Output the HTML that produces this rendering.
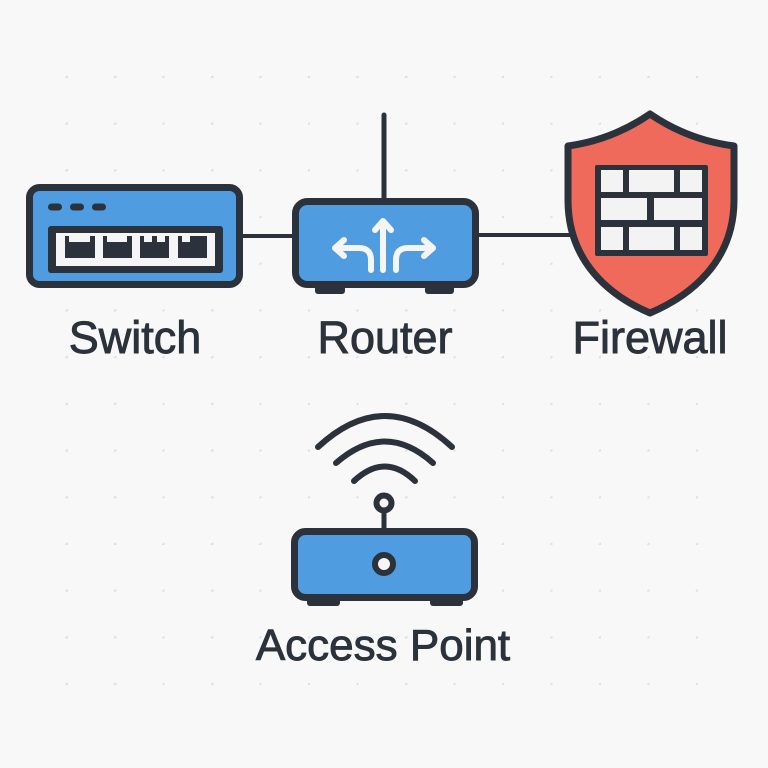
<!DOCTYPE html>
<html>
<head>
<meta charset="utf-8">
<style>
  html,body{margin:0;padding:0;background:#f8f8f8;}
  body{width:768px;height:768px;overflow:hidden;}
  svg{display:block;}
  text{font-family:"Liberation Sans",Arial,sans-serif;fill:#2b323b;stroke:#2b323b;stroke-width:0.9;}
</style>
</head>
<body>
<svg width="768" height="768" viewBox="0 0 768 768" xmlns="http://www.w3.org/2000/svg">
  <defs>
    <pattern id="dots" x="19" y="31.3" width="48.5" height="46.7" patternUnits="userSpaceOnUse">
      <circle cx="48.5" cy="46.7" r="2.4" fill="#e0e0e0"/>
    </pattern>
  </defs>
  <rect width="768" height="768" fill="#f8f8f8"/>
  <rect x="60" y="70" width="648" height="624" fill="url(#dots)"/>

  <!-- connectors -->
  <line x1="240" y1="236" x2="295" y2="236" stroke="#2b323b" stroke-width="4"/>
  <line x1="476" y1="235" x2="576" y2="235" stroke="#2b323b" stroke-width="4"/>
  <line x1="384" y1="115" x2="384" y2="200" stroke="#2b323b" stroke-width="5" stroke-linecap="round"/>

  <!-- Switch -->
  <rect x="29.5" y="187.5" width="210" height="97" rx="10" fill="#4f9de0" stroke="#2b323b" stroke-width="7"/>
  <rect x="48" y="203.5" width="14" height="7" rx="3.5" fill="#2b323b"/>
  <rect x="70" y="203.5" width="14" height="7" rx="3.5" fill="#2b323b"/>
  <rect x="92" y="203.5" width="14" height="7" rx="3.5" fill="#2b323b"/>
  <rect x="48" y="226" width="175" height="47" rx="3" fill="#2b323b"/>
  <rect x="56" y="233" width="159" height="33" fill="#f5f5f5"/>
  <g fill="#2b323b">
    <rect x="65" y="236" width="30" height="22"/>
    <rect x="103" y="236" width="29" height="22"/>
    <rect x="140" y="236" width="29" height="22"/>
    <rect x="178" y="236" width="29" height="22"/>
  </g>
  <g fill="#f5f5f5">
    <rect x="69" y="236" width="21" height="6"/>
    <rect x="107" y="236" width="20" height="6"/>
    <rect x="144" y="236" width="8" height="6"/>
    <rect x="157" y="236" width="8" height="6"/>
    <rect x="182" y="236" width="8" height="6"/>
  </g>

  <!-- Router -->
  <rect x="315" y="284" width="30" height="10" rx="3" fill="#2b323b"/>
  <rect x="425" y="284" width="29" height="10" rx="3" fill="#2b323b"/>
  <rect x="295.5" y="201.5" width="180" height="83" rx="12" fill="#4f9de0" stroke="#2b323b" stroke-width="7"/>
  <g fill="none" stroke="#f5f5f5" stroke-width="6" stroke-linecap="round" stroke-linejoin="round">
    <line x1="383" y1="270" x2="383" y2="222"/>
    <polyline points="375,230 383,221 391,230"/>
    <path d="M371,270 L371,260 Q371,248 359,248 L336,248"/>
    <polyline points="344,240 335,248 344,256"/>
    <path d="M396,270 L396,260 Q396,248 408,248 L432,248"/>
    <polyline points="424,240 433,248 424,256"/>
  </g>

  <!-- Firewall -->
  <path d="M650,114 Q612,140 568,146 L568,200 C568,262 610,296 650,313 C690,296 734,262 734,200 L734,146 Q688,140 650,114 Z" fill="#ef6a5b" stroke="#2b323b" stroke-width="7" stroke-linejoin="round"/>
  <rect x="595" y="165" width="113" height="91" rx="2" fill="#2b323b"/>
  <g fill="#f3f3f3">
    <rect x="601" y="170" width="22" height="22"/>
    <rect x="629" y="170" width="45" height="22"/>
    <rect x="680" y="170" width="22" height="22"/>
    <rect x="601" y="198" width="46" height="22"/>
    <rect x="654" y="198" width="48" height="22"/>
    <rect x="601" y="227" width="22" height="23"/>
    <rect x="629" y="227" width="45" height="23"/>
    <rect x="680" y="227" width="22" height="23"/>
  </g>

  <!-- Labels -->
  <text x="135" y="353" font-size="45" text-anchor="middle">Switch</text>
  <text x="385" y="353" font-size="45" text-anchor="middle">Router</text>
  <text x="650" y="353" font-size="45" text-anchor="middle">Firewall</text>

  <!-- Access Point -->
  <g fill="none" stroke="#2b323b" stroke-width="6" stroke-linecap="round">
    <path d="M318,447 Q385,385 452,447"/>
    <path d="M336,463 Q385,420 433,463"/>
    <path d="M354,481 Q385,452 415,481"/>
  </g>
  <line x1="384" y1="510" x2="384" y2="530" stroke="#2b323b" stroke-width="5"/>
  <circle cx="384" cy="503" r="7.5" fill="#f5f5f5" stroke="#2b323b" stroke-width="6"/>
  <rect x="307" y="596" width="33" height="10" rx="3" fill="#2b323b"/>
  <rect x="430" y="596" width="33" height="10" rx="3" fill="#2b323b"/>
  <rect x="294.5" y="531.5" width="180" height="66" rx="11" fill="#4f9de0" stroke="#2b323b" stroke-width="7"/>
  <circle cx="384" cy="564" r="9" fill="#f5f5f5" stroke="#2b323b" stroke-width="6"/>

  <text x="383" y="660" font-size="44" text-anchor="middle">Access Point</text>
</svg>
</body>
</html>
